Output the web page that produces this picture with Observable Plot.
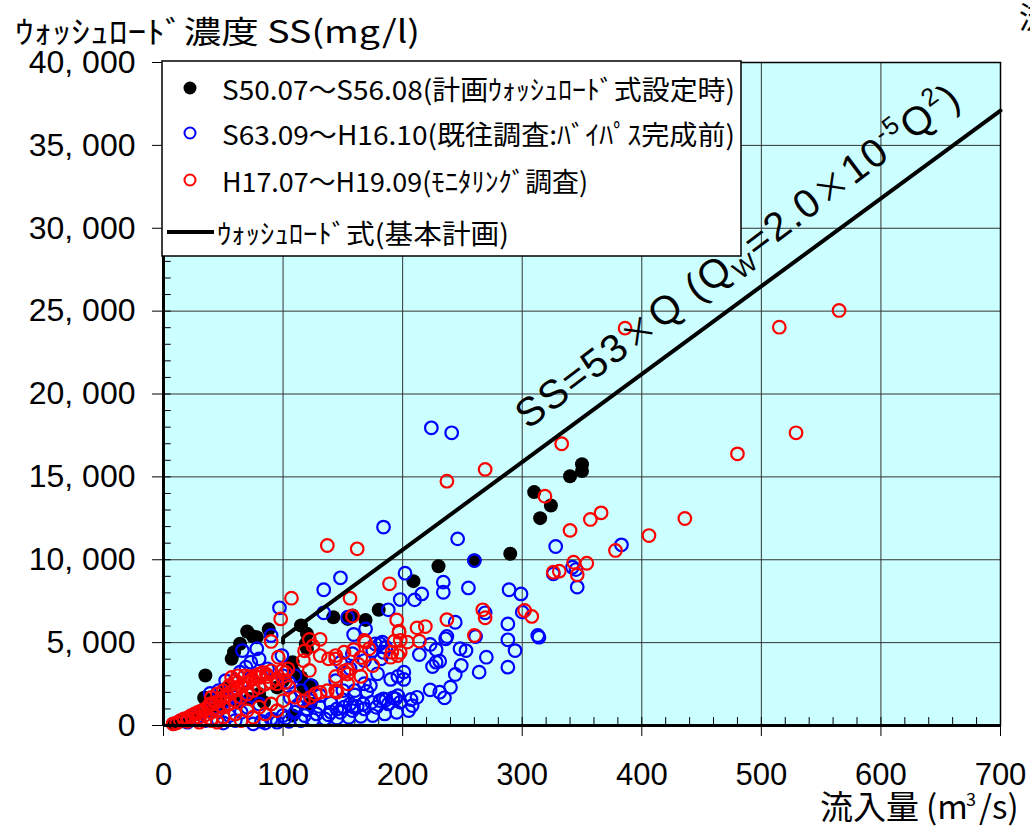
<!DOCTYPE html>
<html><head><meta charset="utf-8">
<script src="https://cdn.jsdelivr.net/npm/d3@7"></script>
<script src="https://cdn.jsdelivr.net/npm/@observablehq/plot@0.6"></script>
<style>
body{margin:0;background:#fff;}
#chart{position:relative;width:1030px;height:830px;overflow:hidden;background:#fff;}
</style></head><body><div id="chart"></div>
<script>
// ---------- data ----------
const blackQ  = [350,350,340,310,324,315,290,260,230,209,180,169,154,142,158,115,120,88,75,70,78,64,59,57,35,34,35,45,52,108,109,117,123,119,120,84,115,120,124,108,8,15,22,28,40,48,62,72,80,95,100];
const blackSS = [15760,15350,15040,14080,13270,12510,10360,9950,9610,8710,6980,6370,6430,6530,6640,6030,5530,5800,5370,5670,5330,4930,4420,4020,3020,1670,1610,1710,2210,3820,3220,2310,1310,4930,4630,1410,2910,2210,2410,600,80,250,450,700,900,1200,1400,1600,1900,2300,2700];

const blueQ  = [224,241,184,246,260,328,383,326,342,345,346,202,234,234,255,216,210,198,188,289,299,300,288,269,244,148,134,134,97,154,169,159,237,236,313,314,261,288,294,288,270,264,253,248,249,244,240,235,231,223,228,225,231,228,223,214,207,201,201,190,196,194,184,168,159,173,179,183,182,184,186,175,168,181,177,158,90,66,78,73,80,99,148,156,144,150,160,131,123,106,115,123,112,120,39,46,52,64,69,53,42,28,20,81,87,
  196,192,186,181,174,167,162,156,151,145,140,
  75,85,95,105,115,125,135,145,155,165,175,185,195,205,
  90,100,110,120,130,140,150,160,170,
  60,50,65,55,45,35,70,80,60,70,80,95,100,110,105,
  82,92,102,118,128,138,148,158,168,178,188,198,208,212];
const blueSS = [17960,17660,11970,11260,9950,10800,10900,9150,9550,9410,8350,9190,8650,8040,8300,7940,7580,7600,6980,8190,7940,6840,6130,6800,6230,8910,8190,6800,7100,6530,5830,5490,5370,5230,5430,5330,5370,5170,4520,3520,4120,3220,4520,4630,3620,3080,2310,1670,2010,2150,3820,3560,3880,4570,4890,4280,1570,3220,2780,2780,2960,1610,1610,2520,1100,2410,3120,5030,4020,4420,4720,4520,3920,4930,4930,4330,5430,4520,4630,3820,4020,4220,3800,3440,2710,2110,2110,1810,1500,1690,2110,2410,1210,1000,1930,2100,2710,3220,3520,1500,1100,500,200,3120,3420,
  1800,1670,1550,1500,1400,1300,1150,1300,1100,1000,800,
  100,150,200,250,300,350,400,450,500,550,600,700,800,900,
  400,600,800,950,1150,1350,1550,1850,2050,
  300,150,800,600,400,300,1100,1300,1700,2000,2300,2800,3000,3000,2600,
  250,350,450,600,700,650,800,900,1000,1100,1300,1400,1200,1700];

const redQ  = [386,515,565,529,480,333,269,237,319,366,357,340,378,406,436,137,162,107,98,156,158,189,195,197,212,219,237,267,269,302,308,326,331,343,346,354,260,168,90,122,96,117,131,138,144,122,99,102,104,95,105,102,197,204,214,193,198,191,198,190,196,169,172,159,151,144,163,175,154,151,144,165,154,144,145,
  117,123,127,131,137,154,165,
  8,11,14,17,20,23,26,29,32,35,38,41,44,47,50,53,56,59,62,65,68,71,74,77,80,83,86,90,
  20,25,30,35,40,45,50,55,60,65,70,75,80,85,90,95,
  40,45,50,55,60,57,62,68,72,80,87,62,
  30,40,50,60,70,80,90,100,110,65,75,85,95,39,45,40,118,125,131];
const redSS = [23970,24030,25040,17660,16390,17000,15450,14740,13830,12830,12430,11770,10560,11460,12490,10860,10660,7680,6430,7680,6600,8550,6370,5690,5890,5970,6390,6980,6500,6940,6580,9250,9310,9850,9090,9790,5430,5130,5070,5190,4120,3920,4220,4020,4020,3320,3300,3200,3420,2520,2310,2610,5630,5030,5090,5090,5130,4420,4420,4120,4220,5030,4630,4570,4420,4220,3680,3620,3360,3280,2960,2960,2520,2110,2010,
  1500,1700,1900,2000,2100,3100,4100,
  100,150,300,400,450,600,700,800,900,1000,1200,1300,1400,1500,1700,1800,2000,2100,2200,2400,2500,2600,2800,3000,3100,3200,3100,3300,
  250,400,500,650,800,900,1100,1300,1500,1700,1900,2100,2300,2500,2600,2800,
  1700,1900,2100,2400,2700,2900,3000,3000,2950,2900,2950,2600,
  200,400,500,700,900,1100,1300,1500,1700,300,500,700,900,1310,200,300,4500,4800,5200];

// washload formula line SS = 53*Q (for Q >= 100)
const lineQ  = [100, 100, 700];
const lineSS = [5000, 5300, 37100];

const xTicks = [0,100,200,300,400,500,600,700];
const yTicks = [0,5000,10000,15000,20000,25000,30000,35000,40000];
const xMinor = d3.range(0, 701, 20);
const yMinor = d3.range(0, 40001, 1000);

const legendLabels = [
  "S50.07～S56.08(計画ｳｫｯｼｭﾛｰﾄﾞ式設定時)",
  "S63.09～H16.10(既往調査:ﾊﾞｲﾊﾟｽ完成前)",
  "H17.07～H19.09(ﾓﾆﾀﾘﾝｸﾞ調査)",
  "ｳｫｯｼｭﾛｰﾄﾞ式(基本計画)"
];
const yTitle = "ｳｫｯｼｭﾛｰﾄﾞ濃度 SS(mg/l)";

// ---------- build ----------
const rows = (qs, ss) => qs.map((q, i) => ({q, ss: ss[i]}));
const black = rows(blackQ, blackSS), blue = rows(blueQ, blueSS), red = rows(redQ, redSS);
const lineRows = rows(lineQ, lineSS);
const fmtY = d => d === 0 ? "0" : d3.format(",")(d).replace(",", ", ");

const plot = Plot.plot({
  width: 1030, height: 830,
  marginLeft: 163, marginRight: 30, marginTop: 62, marginBottom: 105,
  x: {domain: [0, 700]},
  y: {domain: [0, 40000]},
  style: {fontFamily: "'Liberation Sans', Arial, sans-serif", background: "#fff", overflow: "visible"},
  marks: [
    Plot.frame({fill: "#ccffff"}),
    Plot.gridX(xTicks, {stroke: "#333", strokeOpacity: 1, strokeWidth: 1}),
    Plot.gridY(yTicks, {stroke: "#333", strokeOpacity: 1, strokeWidth: 1}),
    Plot.ruleX(xMinor, {y1: 0, y2: 480, stroke: "#000", strokeWidth: 1}),
    Plot.ruleY(yMinor, {x1: 0, x2: 6.5, stroke: "#000", strokeWidth: 1}),
    Plot.dot(black, {x: "q", y: "ss", r: 7, fill: "#000", stroke: "none"}),
    Plot.dot(blue, {x: "q", y: "ss", r: 6.3, stroke: "#0000ff", strokeWidth: 2.2, fill: "none"}),
    Plot.dot(red, {x: "q", y: "ss", r: 6.3, stroke: "#ff0000", strokeWidth: 2.2, fill: "none"}),
    Plot.line(lineRows, {x: "q", y: "ss", stroke: "#000", strokeWidth: 4, strokeLinejoin: "miter"}),
    Plot.frame({stroke: "#000", strokeWidth: 1.5}),
    Plot.ruleX([0], {stroke: "#000", strokeWidth: 3}),
    Plot.ruleY([0], {stroke: "#000", strokeWidth: 3}),
    Plot.axisX(xTicks, {tickSize: 11, tickPadding: 26, fontSize: 31, label: null, tickFormat: d => String(d), stroke: "#000"}),
    Plot.axisY(yTicks, {tickSize: 11, tickPadding: 17, fontSize: 32, label: null, tickFormat: fmtY, stroke: "#000"})
  ]
});
document.getElementById("chart").appendChild(plot);

const svg = d3.select(plot);
const xs = plot.scale("x"), ys = plot.scale("y");
const cjk = "'Noto Sans CJK JP', 'Noto Sans', sans-serif";
const over = svg.append("g").attr("text-anchor", "start");

// y title
over.append("text").attr("x", 15).attr("y", 29).attr("dominant-baseline", "central")
  .attr("font-family", cjk).attr("font-size", 31).attr("textLength", 405)
  .attr("lengthAdjust", "spacingAndGlyphs").attr("fill", "#000").text(yTitle);

// x title 流入量(m3/s) — one text, positioned tspans
const xt = over.append("text").attr("y", 819).attr("font-family", cjk).attr("font-size", 33).attr("fill", "#000");
xt.append("tspan").attr("x", 820).text("流入量");
xt.append("tspan").attr("x", 926).text("(m");
xt.append("tspan").attr("x", 966).attr("dy", -13).attr("font-size", 18).text("3");
xt.append("tspan").attr("x", 979).attr("dy", 13).text("/s)");

// clipped glyph at the top right edge
over.append("text").attr("x", 1019).attr("y", 28).attr("font-family", cjk).attr("font-size", 30).attr("fill", "#000").text("流");

// formula annotation along the line
const p1 = [xs.apply(100), ys.apply(5300)], p2 = [xs.apply(700), ys.apply(37100)];
const ang = Math.atan2(p2[1] - p1[1], p2[0] - p1[0]) * 180 / Math.PI;
const ann = over.append("text").attr("transform", `translate(528,430) rotate(${ang - 0.6})`)
  .attr("font-family", "'Liberation Sans', Arial, sans-serif").attr("font-size", 40)
  .attr("letter-spacing", 1.8).attr("fill", "#000");
ann.append("tspan").text("SS=53");
ann.append("tspan").attr("font-family", cjk).attr("font-size", 34).text("×");
ann.append("tspan").text("Q (Q");
ann.append("tspan").attr("font-size", 25).attr("dy", 8).text("W");
ann.append("tspan").attr("dy", -8).text("=2.0");
ann.append("tspan").attr("font-family", cjk).attr("font-size", 34).text("×");
ann.append("tspan").text("10");
ann.append("tspan").attr("font-size", 25).attr("dy", -17).text("-5");
ann.append("tspan").attr("dy", 17).text("Q");
ann.append("tspan").attr("font-size", 25).attr("dy", -17).text("2");
ann.append("tspan").attr("dy", 17).text(")");

// legend
const lg = over.append("g");
lg.append("rect").attr("x", 162).attr("y", 61).attr("width", 579).attr("height", 195)
  .attr("fill", "#fff").attr("stroke", "#000").attr("stroke-width", 1.5);
const rowsY = [88, 133, 180, 232];
lg.append("circle").attr("cx", 190).attr("cy", rowsY[0]).attr("r", 6.5).attr("fill", "#000");
lg.append("circle").attr("cx", 190).attr("cy", rowsY[1]).attr("r", 5.5).attr("fill", "none").attr("stroke", "#0000ff").attr("stroke-width", 2);
lg.append("circle").attr("cx", 190).attr("cy", rowsY[2]).attr("r", 5.5).attr("fill", "none").attr("stroke", "#ff0000").attr("stroke-width", 2);
lg.append("line").attr("x1", 167).attr("x2", 214).attr("y1", rowsY[3]).attr("y2", rowsY[3]).attr("stroke", "#000").attr("stroke-width", 4);
const lx = [222, 222, 222, 217], lw = [513, 513, 366, 292];
legendLabels.forEach((t, i) => {
  lg.append("text").attr("x", lx[i]).attr("y", rowsY[i]).attr("dominant-baseline", "central")
    .attr("font-family", cjk).attr("font-size", 27).attr("textLength", lw[i])
    .attr("lengthAdjust", "spacingAndGlyphs").attr("fill", "#000").text(t);
});
</script>
</body></html>
